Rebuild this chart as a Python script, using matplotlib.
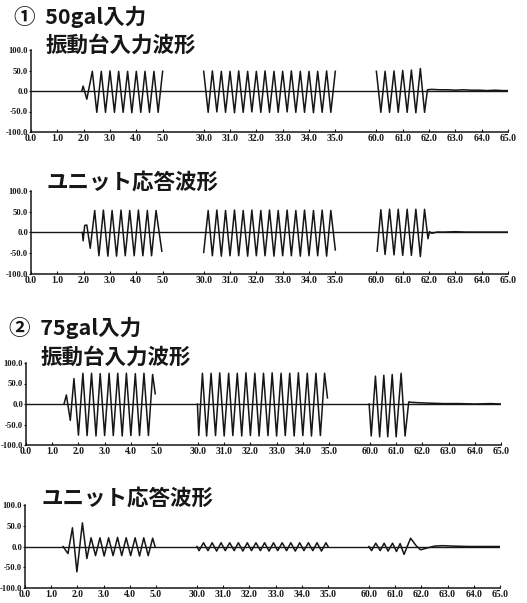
import matplotlib

matplotlib.use("Agg")
import matplotlib.pyplot as plt

plt.rcParams["font.family"] = ["Noto Sans CJK JP", "DejaVu Sans"]

# %% Data: extrema of each trace (time in s, value in gal)

# 1) 50gal - shaking table input
in50_t1 = [1.93, 1.98, 2.12, 2.33, 2.50, 2.67, 2.83, 3.00, 3.17, 3.33, 3.50, 3.67, 3.83, 4.00, 4.17, 4.33, 4.50, 4.67, 4.83, 5.00]
in50_v1 = [0, 12, -20, 48, -52, 48, -52, 49, -52, 48, -52, 48, -53, 48, -52, 48, -52, 48, -52, 48]
in50_t2 = [30.00, 30.17, 30.33, 30.50, 30.67, 30.83, 31.00, 31.17, 31.33, 31.50, 31.67, 31.83, 32.00, 32.17, 32.33, 32.50,
           32.67, 32.83, 33.00, 33.17, 33.33, 33.50, 33.67, 33.83, 34.00, 34.17, 34.33, 34.50, 34.67, 34.83, 35.00]
in50_v2 = [48, -52, 49, -51, 48, -52, 48, -53, 49, -52, 48, -51, 48, -52, 49, -52,
           48, -52, 48, -51, 49, -52, 48, -52, 48, -53, 48, -52, 49, -52, 48]
in50_t3 = [60.00, 60.17, 60.33, 60.50, 60.67, 60.83, 61.00, 61.17, 61.33, 61.50, 61.67, 61.83, 61.94,
           62.10, 62.40, 62.70, 63.00, 63.30, 63.60, 63.90, 64.20, 64.50, 64.80, 65.00]
in50_v3 = [48, -52, 48, -52, 49, -52, 50, -52, 51, -53, 55, -52, 3, 4, 3, 3, 2, 3, 2, 2, 1, 2, 1, 1]

# 1) 50gal - unit response
res50_t1 = [1.95, 1.98, 2.04, 2.12, 2.25, 2.42, 2.58, 2.75, 2.92, 3.08, 3.25, 3.42, 3.58, 3.75, 3.92, 4.08, 4.25, 4.42,
            4.58, 4.75, 4.97]
res50_v1 = [0, -20, 17, 18, -38, 53, -56, 54, -57, 53, -57, 54, -56, 53, -56, 54, -56, 53, -56, 53, -45]
res50_t2 = [30.00, 30.17, 30.33, 30.50, 30.67, 30.83, 31.00, 31.17, 31.33, 31.50, 31.67, 31.83, 32.00, 32.17, 32.33, 32.50,
            32.67, 32.83, 33.00, 33.17, 33.33, 33.50, 33.67, 33.83, 34.00, 34.17, 34.33, 34.50, 34.67, 34.83, 35.00]
res50_v2 = [-48, 53, -56, 54, -57, 53, -56, 54, -56, 53, -57, 54, -56, 53, -56, 54,
            -57, 53, -56, 54, -56, 53, -57, 54, -56, 53, -56, 54, -57, 53, -42]
res50_t3 = [60.03, 60.17, 60.33, 60.50, 60.67, 60.83, 61.00, 61.17, 61.33, 61.50, 61.67, 61.83, 61.96,
            62.02, 62.10, 62.30, 62.60, 63.00, 63.40, 63.80, 64.20, 64.60, 65.00]
res50_v3 = [-45, 55, -53, 56, -54, 56, -55, 56, -55, 56, -58, 56, -15, 2, -2, 1, 1, 2, 1, 1, 1, 1, 1]

# 2) 75gal - shaking table input
in75_t1 = [1.45, 1.54, 1.69, 1.83, 2.00, 2.17, 2.33, 2.50, 2.67, 2.83, 3.00, 3.17, 3.33, 3.50, 3.67, 3.83, 4.00, 4.17,
           4.33, 4.50, 4.67, 4.83, 4.93]
in75_v1 = [0, 22, -40, 62, -76, 75, -77, 75, -78, 74, -77, 75, -77, 75, -78, 75, -77, 74, -77, 75, -77, 72, 25]
in75_t2 = [29.98, 30.03, 30.17, 30.33, 30.50, 30.67, 30.83, 31.00, 31.17, 31.33, 31.50, 31.67, 31.83, 32.00, 32.17, 32.33,
           32.50, 32.67, 32.83, 33.00, 33.17, 33.33, 33.50, 33.67, 33.83, 34.00, 34.17, 34.33, 34.50, 34.67, 34.83, 34.94]
in75_v2 = [0, -77, 75, -78, 75, -77, 76, -78, 75, -77, 75, -78, 76, -77, 75, -78,
           75, -77, 76, -78, 75, -77, 75, -78, 76, -77, 75, -78, 75, -77, 75, 15]
in75_t3 = [59.97, 60.05, 60.21, 60.37, 60.53, 60.68, 60.85, 61.00, 61.19, 61.34, 61.48, 61.60, 61.90, 62.30, 62.80, 63.40,
           64.00, 64.60, 65.00]
in75_v3 = [0, -78, 68, -80, 70, -80, 72, -80, 75, -78, 5, 4, 3, 2, 1, 1, 0, 1, 0]

# 2) 75gal - unit response
res75_t1 = [1.45, 1.64, 1.81, 1.98, 2.19, 2.36, 2.52, 2.69, 2.86, 3.02, 3.19, 3.36, 3.53, 3.69, 3.86, 4.03, 4.20, 4.37,
            4.53, 4.70, 4.87, 4.96]
res75_v1 = [0, -17, 45, -61, 57, -29, 21, -22, 21, -23, 21, -22, 22, -22, 21, -22, 21, -23, 21, -22, 20, 0]
res75_t2 = [30.00, 30.08, 30.25, 30.42, 30.58, 30.75, 30.92, 31.08, 31.25, 31.42, 31.58, 31.75, 31.92, 32.08, 32.25, 32.42,
            32.58, 32.75, 32.92, 33.08, 33.25, 33.42, 33.58, 33.75, 33.92, 34.08, 34.25, 34.42, 34.58, 34.75, 34.92, 35.00]
res75_v2 = [0, -10, 9, -10, 9, -11, 9, -10, 9, -10, 9, -11, 9, -10, 9, -10,
            9, -11, 9, -10, 9, -10, 9, -11, 9, -10, 9, -10, 9, -11, 9, 0]
res75_t3 = [60.00, 60.10, 60.26, 60.43, 60.58, 60.73, 60.90, 61.05, 61.19, 61.34, 61.59, 61.80, 61.97, 62.20, 62.50,
            62.80, 63.20, 63.80, 64.40, 65.00]
res75_v3 = [0, -10, 8, -10, 8, -11, 8, -12, 7, -19, 20, 2, -8, -4, 1, 2, 1, 0, 0, 0]

# axis ticks
x_ticks = [0, 1, 2, 3, 4, 5, 30, 31, 32, 33, 34, 35, 60, 61, 62, 63, 64, 65]
y_ticks = [-100, -50, 0, 50, 100]

# %% Broken time axis: three 5 s windows drawn side by side
GAP = 1.56


def to_u(t):
    if t < 17.5:
        return t
    if t < 47.5:
        return t - 30 + 5 + GAP
    return t - 60 + 10 + 2 * GAP


W, H = 527, 603
fig = plt.figure(figsize=(W / 100, H / 100), dpi=100)
ink = "#161616"


def panel(left, right, top, bottom, segments):
    ax = fig.add_axes([left / W, 1 - bottom / H, (right - left) / W, (bottom - top) / H])
    ax.axhline(0, color=ink, lw=1.0, zorder=1)
    for t, v in segments:
        ax.plot([to_u(x) for x in t], v, color=ink, lw=1.1, solid_joinstyle="round", zorder=2)
    ax.set_xlim(0, 15 + 2 * GAP)
    ax.set_ylim(-100, 100)
    ax.spines["top"].set_visible(False)
    ax.spines["right"].set_visible(False)
    for s in ("left", "bottom"):
        ax.spines[s].set_linewidth(1.1)
        ax.spines[s].set_color(ink)
    ax.set_xticks([to_u(x) for x in x_ticks])
    ax.set_xticklabels([f"{x:.1f}" for x in x_ticks], family="Liberation Serif", fontsize=7, fontweight="bold")
    ax.set_yticks(y_ticks)
    ax.set_yticklabels([f"{y:.1f}" for y in y_ticks], family="Liberation Serif", fontsize=6.2, fontweight="bold")
    ax.tick_params(axis="x", direction="in", length=2.5, width=0.8, pad=1.5, colors=ink)
    ax.tick_params(axis="y", direction="out", length=1.5, width=0.8, pad=0.5, colors=ink)
    ax.patch.set_alpha(0)
    return ax


panel(31, 508, 50, 132, [(in50_t1, in50_v1), (in50_t2, in50_v2), (in50_t3, in50_v3)])
panel(31, 508, 191, 274, [(res50_t1, res50_v1), (res50_t2, res50_v2), (res50_t3, res50_v3)])
panel(26, 501, 363, 445, [(in75_t1, in75_v1), (in75_t2, in75_v2), (in75_t3, in75_v3)])
panel(25, 500, 505, 588, [(res75_t1, res75_v1), (res75_t2, res75_v2), (res75_t3, res75_v3)])

# %% Headings
heads = [
    (14, 17, "①  50gal入力"),
    (46, 45, "振動台入力波形"),
    (46, 182, "ユニット応答波形"),
    (9, 328, "②  75gal入力"),
    (41, 357, "振動台入力波形"),
    (41, 498, "ユニット応答波形"),
]
for x, y, s in heads:
    fig.text(x / W, 1 - y / H, s, fontsize=15.5, fontweight="bold", color=ink, va="center", ha="left")

fig.savefig("out.png", dpi=100)
